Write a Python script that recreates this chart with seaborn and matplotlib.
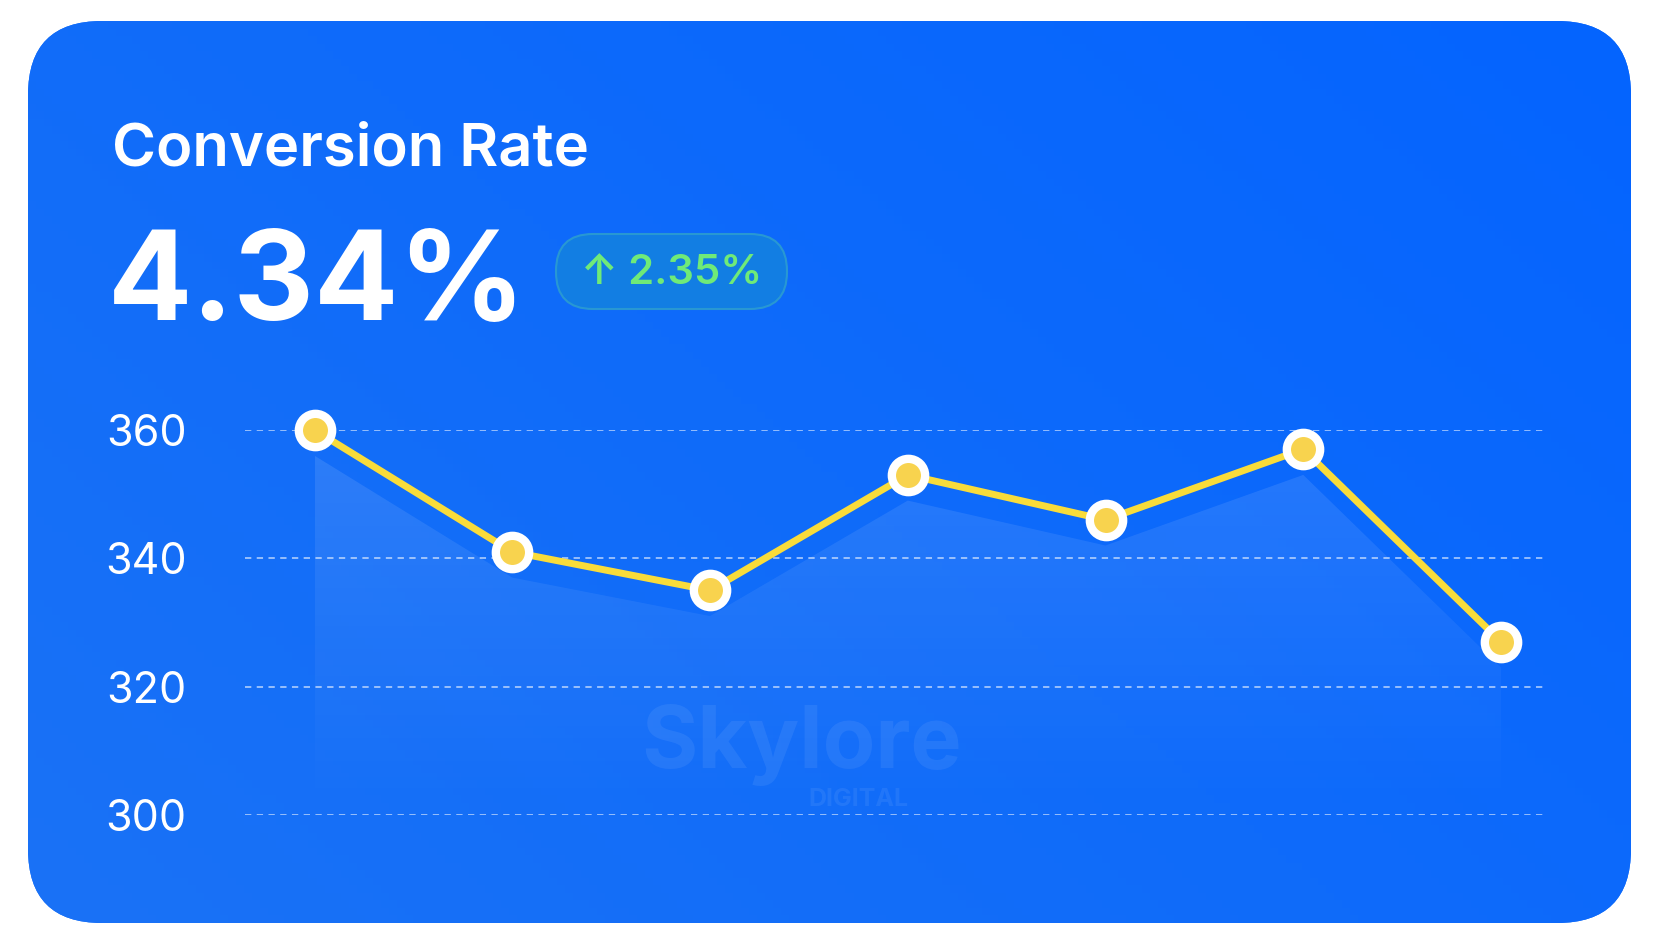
import numpy as np
import pandas as pd
import matplotlib
matplotlib.use("Agg")
import matplotlib.pyplot as plt
import seaborn as sns
from matplotlib.patches import FancyBboxPatch
from matplotlib.colors import LinearSegmentedColormap

# ---- data ----
periods = ["P1", "P2", "P3", "P4", "P5", "P6", "P7"]
values = [360, 341, 335, 353, 346, 357, 327]
y_ticks = [300, 320, 340, 360]
title = "Conversion Rate"
headline = "4.34%"
change_label = "\u2191 2.35%"

W, H = 1655, 950
sns.set_theme(style="white")
plt.rcParams["font.family"] = ["Inter", "DejaVu Sans"]

fig = plt.figure(figsize=(W / 100, H / 100), dpi=100)
fig.patch.set_facecolor("white")

# background axes in pixel units
bg = fig.add_axes([0, 0, 1, 1])
bg.set_xlim(0, W)
bg.set_ylim(0, H)
bg.axis("off")

def Y(y):
    return H - y

# card
cx0, cy0, cx1, cy1 = 28, 21, 1631, 923
card = FancyBboxPatch((cx0, Y(cy1)), cx1 - cx0, cy1 - cy0,
                      boxstyle="round,pad=0,rounding_size=74",
                      facecolor="#0F6BFA", edgecolor="none", zorder=0)
bg.add_patch(card)
cmap = LinearSegmentedColormap.from_list("card", ["#1A72F6", "#0F6BFA", "#0464FF"])
gx, gy = np.meshgrid(np.linspace(0, 1, 200), np.linspace(0, 1, 120))
grad = (gx * 0.6 + (1 - gy) * 0.4)
im = bg.imshow(grad, cmap=cmap, extent=(cx0, cx1, Y(cy1), Y(cy0)),
               origin="upper", aspect="auto", zorder=0.5)
im.set_clip_path(card)

# title and headline
bg.text(112, Y(166), title, color="white", fontsize=43, fontweight="semibold",
        va="baseline", ha="left", zorder=3)
bg.text(108, Y(320), headline, color="white", fontsize=90, fontweight="bold",
        va="baseline", ha="left", zorder=3)

# badge
bx0, by0, bx1, by1 = 556, 234, 787, 309
badge = FancyBboxPatch((bx0, Y(by1)), bx1 - bx0, by1 - by0,
                       boxstyle="round,pad=0,rounding_size=37",
                       facecolor="#1380E2", edgecolor="#2A9AD2", linewidth=1.5,
                       alpha=0.95, zorder=2)
bg.add_patch(badge)
bg.text((bx0 + bx1) / 2, Y(273), change_label, color="#6FEA78", fontsize=30,
        fontweight="semibold", ha="center", va="center", zorder=3,
        family=["Inter", "DejaVu Sans"])

# watermark
bg.text(802, Y(745), "Skylore", color="white", alpha=0.07, fontsize=62,
        fontweight="bold", ha="center", va="center", zorder=1)
bg.text(858, Y(800), "DIGITAL", color="white", alpha=0.07, fontsize=18,
        fontweight="bold", ha="center", va="center", zorder=1)

# chart axes
ax_left, ax_right = 245, 1544
ax_top, ax_bot = 430, 815
ax = fig.add_axes([ax_left / W, 1 - ax_bot / H, (ax_right - ax_left) / W, (ax_bot - ax_top) / H])
ax.patch.set_alpha(0)
df = pd.DataFrame({"idx": np.arange(len(periods)), "value": values})

x0 = -(314.5 - ax_left) / ((1501 - 314.5) / 6)
x1 = 6 + (ax_right - 1501) / ((1501 - 314.5) / 6)

# gridlines
for t in y_ticks:
    ax.axhline(t, color="white", alpha=0.6, lw=1.3, ls=(0, (3.5, 3)), zorder=1)

# gradient fill under line
poly = ax.fill_between(df["idx"], df["value"] - 4, 300, color="none", zorder=1.5)
fcmap = LinearSegmentedColormap.from_list(
    "fill", [(1, 1, 1, 0.0), (1, 1, 1, 0.12)])
fim = ax.imshow(np.linspace(0, 1, 100).reshape(-1, 1), cmap=fcmap,
                extent=(0, 6, 300, 360), origin="lower", aspect="auto", zorder=1.5)
fim.set_clip_path(poly.get_paths()[0], transform=ax.transData)

sns.lineplot(data=df, x="idx", y="value", ax=ax, color="#F9DC3A", lw=5,
             marker="o", markersize=24, markerfacecolor="#F8D34E",
             markeredgecolor="white", markeredgewidth=6, zorder=4,
             clip_on=False)
ax.set_xlim(x0, x1)
ax.set_ylim(300, 360)

ax.set_yticks(y_ticks)
ax.set_yticklabels([str(t) for t in y_ticks], color="white", fontsize=31)
ax.tick_params(axis="y", length=0, pad=42)
ax.set_xticks([])
ax.set_xlabel("")
ax.set_ylabel("")
for s in ax.spines.values():
    s.set_visible(False)
ax.grid(False)

fig.savefig("out.png", dpi=100, facecolor="white")
